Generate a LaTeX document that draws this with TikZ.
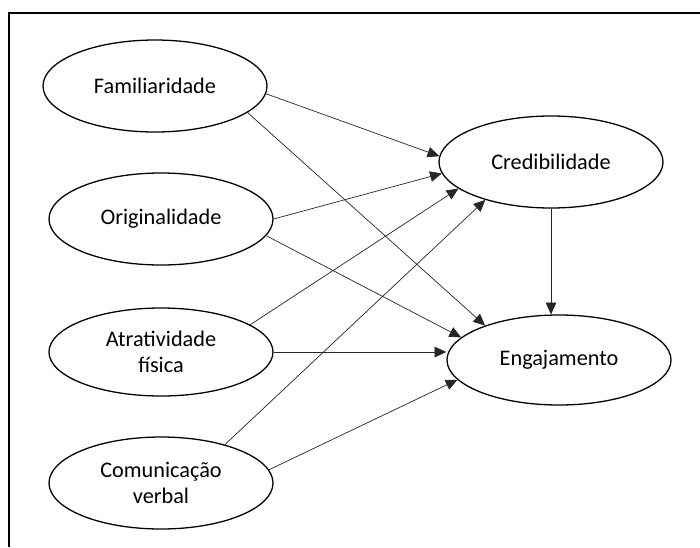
\documentclass[tikz,border=0pt]{standalone}
\usepackage{fontspec}
\setmainfont{Carlito}
\usetikzlibrary{arrows.meta,%
	shapes.geometric,%
	calc}

\begin{document}
\begin{tikzpicture}[x=0.03cm, y=-0.03cm]

		\tikzset{VertexStyle/.style =
				{shape=ellipse, draw=black, line width=1.1pt, minimum width=6.72cm, minimum height=2.76cm,
				 inner sep=0pt, align=center, font=\fontsize{19}{22}\selectfont}
		}
		\tikzset{EdgeStyle/.style =
				{-{Triangle[length=10pt,width=9pt]}, color=black!85, line width=0.6pt}
		}

		\useasboundingbox (0,0) rectangle (700,547);

		%frame
		\draw[line width=1.7pt] (700,13) -- (9,13) -- (9,547);

		%left
		\node[VertexStyle] (fam) at (155,86) {Familiaridade};
		\node[VertexStyle] (orig) at (161,219) {Originalidade};
		\node[VertexStyle, minimum height=2.64cm] (atr) at (161,352) {Atratividade\\física};
		\node[VertexStyle] (com) at (161,483) {Comunicação\\verbal};

		%right
		\node[VertexStyle] (cred) at (551,162) {Credibilidade};
		\node[VertexStyle, minimum height=2.7cm] (eng) at (559,360) {Engajamento};

		%edges to cred
		\draw[EdgeStyle] (fam.356) -- (cred.177);
		\draw[EdgeStyle] (orig.0) -- (cred.186);
		\draw[EdgeStyle] (atr.17) -- (cred.196);
		\draw[EdgeStyle] (com.31) -- (cred.210);

		%edges to eng
		\draw[EdgeStyle] (fam.344) -- (eng.155);
		\draw[EdgeStyle] (orig.351) -- (eng.167);
		\draw[EdgeStyle] (atr.east) -- (atr.east -| eng.west);
		\draw[EdgeStyle] (com.7) -- (eng.191);

		%cred to eng
		\draw[EdgeStyle] (cred.south) -- (cred.south |- eng.north);
	\end{tikzpicture}
\end{document}
